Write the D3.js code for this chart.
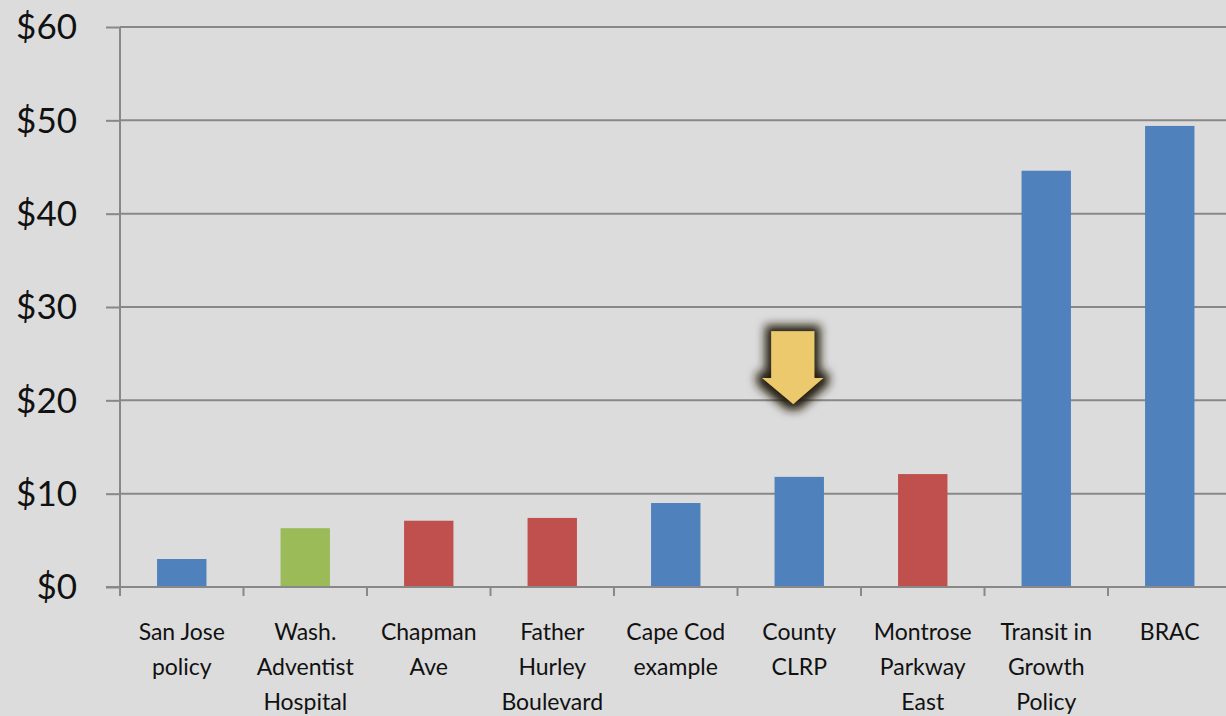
<!DOCTYPE html>
<html>
<head>
<meta charset="utf-8">
<script src="https://cdn.jsdelivr.net/npm/d3@7"></script>
<style>
  html, body { margin: 0; padding: 0; background: #dcdcdc; }
  svg { display: block; }
  text { font-family: Lato, "Open Sans", sans-serif; fill: #111; }
</style>
</head>
<body>
<script>
// chart data
var projects = [
  ["San Jose", "policy"],
  ["Wash.", "Adventist", "Hospital"],
  ["Chapman", "Ave"],
  ["Father", "Hurley", "Boulevard"],
  ["Cape Cod", "example"],
  ["County", "CLRP"],
  ["Montrose", "Parkway", "East"],
  ["Transit in", "Growth", "Policy"],
  ["BRAC"]
];
var costs = [3.0, 6.3, 7.1, 7.4, 9.0, 11.8, 12.1, 44.6, 49.4];
var groups = ["blue", "green", "red", "red", "blue", "blue", "red", "blue", "blue"];
var yTicks = [0, 10, 20, 30, 40, 50, 60];
var highlighted = 5; // County CLRP gets the arrow

var palette = { blue: "#4f81bd", green: "#9bbb59", red: "#c0504d" };

var W = 1226, H = 716;
var plotLeft = 120, plotTop = 27, plotBottom = 587;

var svg = d3.select("body").append("svg")
  .attr("width", W).attr("height", H);

var x = d3.scaleBand()
  .domain(d3.range(projects.length))
  .range([plotLeft, plotLeft + 123.5 * projects.length])
  .padding(0);

var y = d3.scaleLinear().domain([0, 60]).range([plotBottom, plotTop]);

// gridlines
svg.append("g").selectAll("line")
  .data(yTicks.slice(1))
  .join("line")
  .attr("x1", plotLeft).attr("x2", W)
  .attr("y1", function(d) { return y(d); })
  .attr("y2", function(d) { return y(d); })
  .attr("stroke", "#888").attr("stroke-width", 2);

// y axis
var yAxis = svg.append("g")
  .attr("transform", "translate(" + plotLeft + ",0)")
  .call(d3.axisLeft(y).tickValues(yTicks).tickSize(14).tickPadding(29)
    .tickFormat(function(d) { return "$" + d; }));
yAxis.select(".domain").attr("stroke", "#888").attr("stroke-width", 2)
  .attr("d", "M0," + y(60) + "V" + y(0));
yAxis.selectAll(".tick line").attr("stroke", "#888").attr("stroke-width", 2);
yAxis.selectAll("text").attr("font-size", 35).attr("fill", "#111")
  .attr("font-family", "Lato, 'Open Sans', sans-serif").attr("dy", "0.34em");

// bars
var bw = x.bandwidth() * 0.4;
svg.append("g").selectAll("rect")
  .data(costs)
  .join("rect")
  .attr("x", function(d, i) { return x(i) + (x.bandwidth() - bw) / 2; })
  .attr("width", bw)
  .attr("y", function(d) { return y(d); })
  .attr("height", function(d) { return y(0) - y(d); })
  .attr("fill", function(d, i) { return palette[groups[i]]; });

// x axis
var xAxis = svg.append("g");
xAxis.append("line")
  .attr("x1", plotLeft - 14).attr("x2", W)
  .attr("y1", y(0)).attr("y2", y(0))
  .attr("stroke", "#888").attr("stroke-width", 2);
xAxis.selectAll("line.tk")
  .data(d3.range(projects.length + 1))
  .join("line").attr("class", "tk")
  .attr("x1", function(i) { return plotLeft + i * x.step(); })
  .attr("x2", function(i) { return plotLeft + i * x.step(); })
  .attr("y1", y(0)).attr("y2", y(0) + 9)
  .attr("stroke", "#888").attr("stroke-width", 2);

var labels = xAxis.selectAll("text.cat")
  .data(projects)
  .join("text").attr("class", "cat")
  .attr("text-anchor", "middle")
  .attr("font-size", 23)
  .attr("x", function(d, i) { return x(i) + x.bandwidth() / 2; })
  .attr("y", 640);
labels.selectAll("tspan")
  .data(function(d, i) { return d.map(function(s) { return { s: s, i: i }; }); })
  .join("tspan")
  .attr("x", function(d) { return x(d.i) + x.bandwidth() / 2; })
  .attr("dy", function(d, k) { return k === 0 ? 0 : 35; })
  .text(function(d) { return d.s; });

// highlight arrow with a dark glow
var defs = svg.append("defs");
var glow = defs.append("filter").attr("id", "glow")
  .attr("x", "-80%").attr("y", "-80%").attr("width", "260%").attr("height", "260%");
glow.append("feMorphology").attr("in", "SourceAlpha").attr("operator", "dilate")
  .attr("radius", 6).attr("result", "fat");
glow.append("feGaussianBlur").attr("in", "fat").attr("stdDeviation", 5).attr("result", "blur");
glow.append("feFlood").attr("flood-color", "#221c0c").attr("flood-opacity", 1);
glow.append("feComposite").attr("in2", "blur").attr("operator", "in").attr("result", "shadow");
var merge = glow.append("feMerge");
merge.append("feMergeNode").attr("in", "shadow");
merge.append("feMergeNode").attr("in", "SourceGraphic");

var cx = x(highlighted) + x.bandwidth() / 2 - 6;
var tipY = y(19.6), headY = y(22.4), tailY = y(27.4);
svg.append("path")
  .attr("d", "M" + (cx - 22) + "," + tailY +
    "H" + (cx + 21) + "V" + headY +
    "H" + (cx + 30) + "L" + cx + "," + tipY +
    "L" + (cx - 31) + "," + headY +
    "H" + (cx - 22) + "Z")
  .attr("fill", "#ebc96c")
  .attr("filter", "url(#glow)");
</script>
</body>
</html>
